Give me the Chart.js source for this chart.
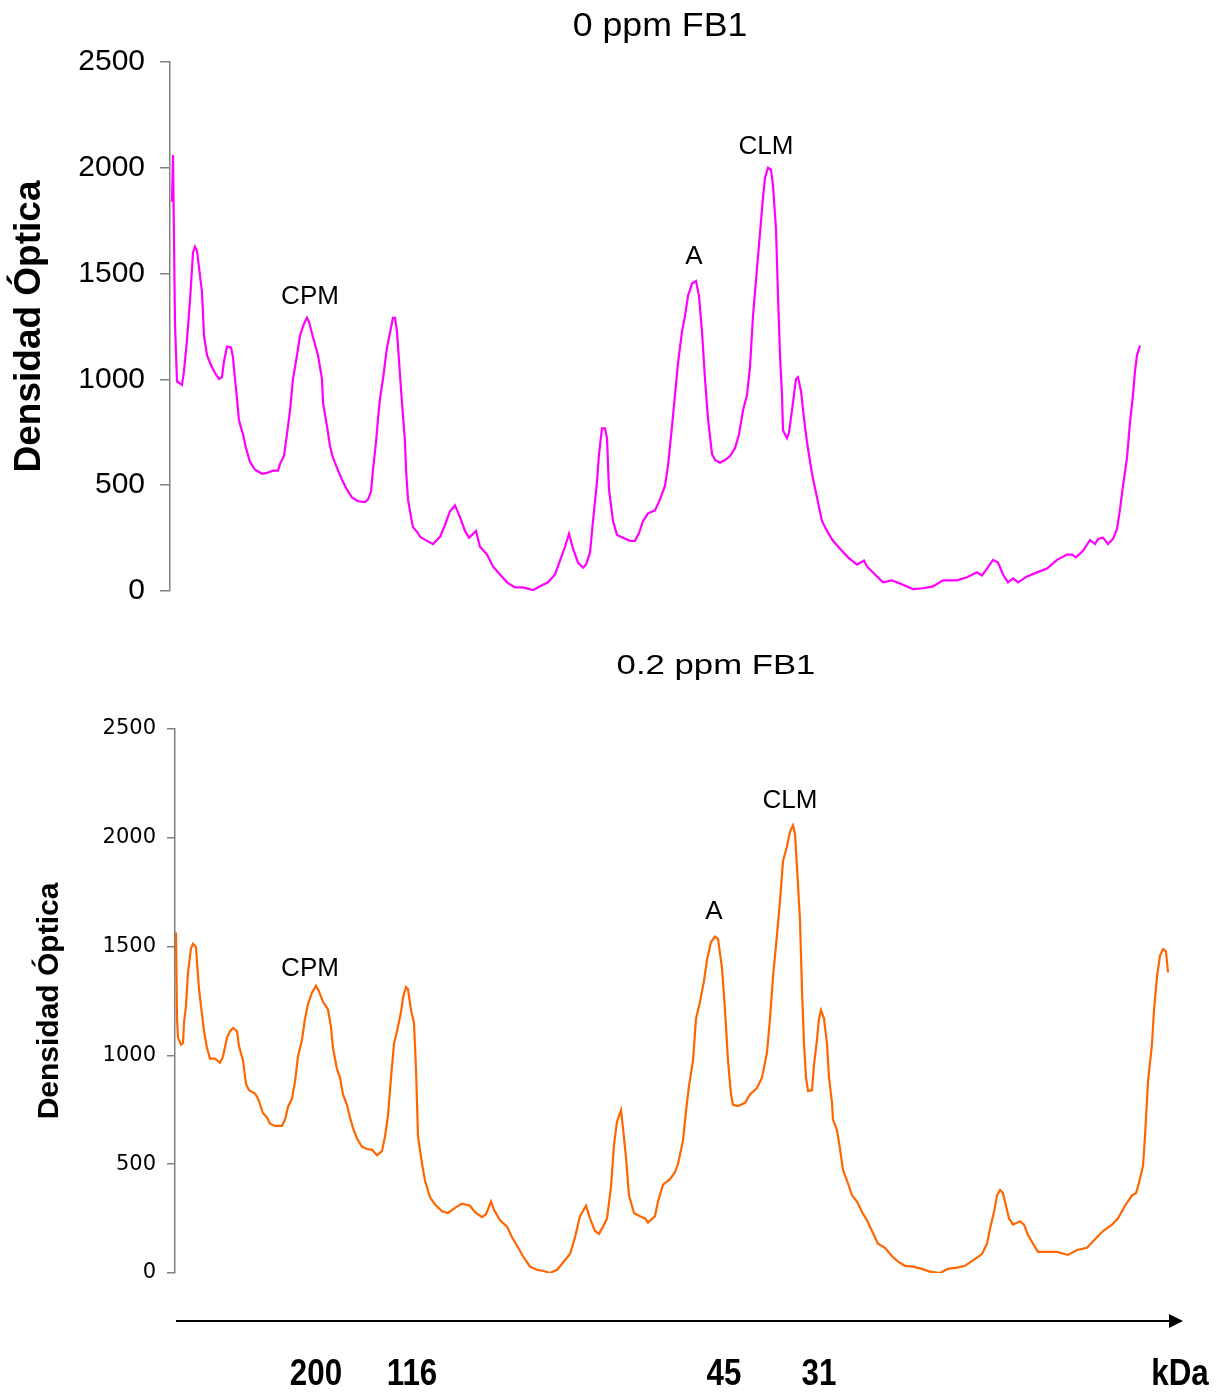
<!DOCTYPE html>
<html>
<head>
<meta charset="utf-8">
<script src="https://cdn.jsdelivr.net/npm/chart.js@4.4.1/dist/chart.umd.min.js"></script>
<style>
  html, body { margin: 0; padding: 0; background: #fff; overflow: hidden; }
  .box { position: absolute; left: 0; width: 1225px; }
  #top { top: 0; height: 640px; }
  #bot { top: 640px; height: 753px; }
</style>
</head>
<body>
<div class="box" id="top"><canvas id="c0"></canvas></div>
<div class="box" id="bot"><canvas id="c1"></canvas></div>
<script>
// densitometry traces, position along the lane (a.u.) vs optical density
const posTop = [0,1,3,5,10,12,15,18,21,23,25,30,32,35,39,43,47,50,52,55,59,61,63,65,67,71,74,78,83,90,95,101,106,108,112,115,118,121,125,128,132,135,137,141,146,150,151,155,158,161,165,170,175,180,186,193,196,199,201,204,206,208,211,215,219,221,223,225,228,230,233,234,236,239,241,246,248,255,261,268,273,278,283,288,293,297,300,304,308,315,321,328,335,343,351,361,368,376,383,388,393,397,401,406,411,414,418,421,425,427,430,433,435,437,441,445,451,458,463,467,471,476,483,488,493,496,500,503,506,510,513,516,520,524,527,530,533,536,540,543,548,553,558,563,567,571,575,578,581,585,588,591,593,596,599,601,604,606,608,610,611,615,617,621,624,626,629,632,635,640,645,650,655,661,668,676,685,692,695,703,711,720,728,741,751,761,771,785,795,805,810,815,821,826,831,836,841,846,855,865,875,885,895,900,904,911,918,923,926,931,936,941,945,948,951,955,958,961,963,965,968];
const odTop = [1840,2060,1260,990,974,1039,1188,1375,1599,1627,1608,1412,1207,1114,1067,1030,1002,1011,1086,1155,1151,1104,1002,909,806,741,675,610,573,554,558,569,569,601,638,741,853,1002,1114,1207,1263,1291,1272,1198,1114,1002,890,778,685,629,582,526,479,442,424,420,433,470,573,703,815,909,1002,1151,1244,1291,1291,1226,1021,890,703,573,433,349,302,274,256,237,222,256,312,377,405,349,284,252,265,284,209,172,116,78,41,17,17,4,22,41,78,144,209,271,200,134,110,125,181,330,517,647,769,769,722,479,330,265,252,237,237,274,330,367,381,433,498,591,778,927,1077,1226,1300,1394,1453,1465,1394,1226,1002,815,647,619,606,619,638,675,741,853,927,1058,1300,1524,1692,1860,1953,2000,1991,1916,1711,1394,1114,927,759,722,750,890,1002,1011,946,815,703,554,442,330,284,237,200,159,125,144,116,78,41,50,35,9,13,22,50,50,65,88,73,106,147,134,78,41,60,41,69,88,106,147,172,172,159,190,241,222,246,252,222,246,293,386,498,629,797,927,1039,1114,1160];

const posBottom = [0,1,2,5,7,8,10,12,15,17,20,21,23,26,28,31,34,39,44,47,51,54,57,61,63,67,70,73,79,82,87,91,94,99,106,109,112,116,119,122,126,129,132,136,140,143,147,152,155,157,161,164,167,171,174,177,181,186,191,196,201,206,209,212,215,218,221,225,227,230,232,235,238,240,242,246,249,254,259,266,272,279,286,294,299,306,310,315,318,324,331,336,341,347,354,361,367,374,381,387,394,399,404,410,414,419,423,427,431,435,438,441,445,447,450,453,458,464,469,472,479,482,487,494,499,502,507,510,513,517,520,524,528,531,535,539,542,546,549,552,555,557,562,569,574,581,586,591,594,597,601,604,607,611,614,617,619,621,624,626,628,630,632,636,638,641,643,645,648,651,653,656,657,661,664,667,671,676,681,686,691,696,702,709,716,722,729,737,746,754,764,772,781,789,797,806,811,814,818,821,824,827,830,833,837,844,848,852,857,862,871,881,892,901,911,919,927,936,942,949,956,960,963,967,969,972,976,978,981,984,987,990,992];
const odBottom = [1565,1169,1082,1049,1057,1150,1227,1381,1492,1513,1497,1430,1304,1188,1111,1034,985,985,966,995,1082,1111,1126,1111,1043,976,869,840,825,802,734,715,686,676,676,705,763,802,879,995,1072,1169,1236,1289,1320,1294,1246,1211,1130,1034,937,898,821,773,715,667,618,580,570,566,541,560,628,724,898,1053,1111,1198,1265,1314,1304,1208,1150,937,628,502,425,348,315,284,276,299,319,309,280,257,270,328,290,242,213,164,126,77,29,15,10,0,15,48,87,164,261,309,251,193,180,213,251,396,589,696,748,667,531,357,276,261,251,232,261,328,406,431,464,502,609,744,860,976,1169,1246,1343,1439,1521,1546,1536,1401,1208,976,821,773,767,782,821,850,898,1014,1169,1362,1555,1710,1893,1961,2029,2058,2019,1864,1620,1300,1053,898,837,840,956,1072,1169,1208,1169,1053,898,782,705,657,570,473,425,357,328,280,242,193,135,116,77,52,33,29,19,6,0,19,25,33,58,87,135,203,280,357,381,367,309,251,222,238,222,174,135,97,97,97,83,106,116,155,193,222,251,309,357,367,415,493,628,879,1053,1208,1362,1459,1488,1478,1381];

const yTicks = [0, 500, 1000, 1500, 2000, 2500];

// band labels, placed in data space
const peakNames = ['CPM', 'A', 'CLM'];
const peakPosTop = [138, 522, 594];
const peakOdTop = [1389, 1578, 2098];
const peakPosBottom = [134, 538, 614];
const peakOdBottom = [1397, 1659, 2169];

// molecular weight markers under the lower lane
const kdaLabels = ['200', '116', '45', '31'];
const kdaPos = [140, 236, 548, 643];
const kdaUnitPos = 1004;

function say(ctx, text, x, y, font, sx) {
  ctx.save();
  ctx.translate(x, y);
  ctx.scale(sx || 1, 1);
  ctx.font = font;
  ctx.fillStyle = '#000';
  ctx.textAlign = 'center';
  ctx.textBaseline = 'middle';
  ctx.fillText(text, 0, 0);
  ctx.restore();
}

const notes = {
  id: 'notes',
  afterDraw(chart, args, o) {
    const ctx = chart.ctx;
    const xs = chart.scales.x, ys = chart.scales.y;
    say(ctx, o.title, o.titleX, o.titleY, o.titleFont, o.titleScale);
    o.peakPos.forEach((p, i) => {
      say(ctx, peakNames[i], xs.getPixelForValue(p), ys.getPixelForValue(o.peakOd[i]), '26px "Liberation Sans", Arial, sans-serif');
    });
    if (o.kda) {
      const area = chart.chartArea;
      const y = area.bottom + 48;
      const x0 = area.left + 1, tip = area.right - 17;
      ctx.save();
      ctx.strokeStyle = '#000';
      ctx.fillStyle = '#000';
      ctx.lineWidth = 2;
      ctx.beginPath();
      ctx.moveTo(x0, y);
      ctx.lineTo(tip - 10, y);
      ctx.stroke();
      ctx.beginPath();
      ctx.moveTo(tip, y);
      ctx.lineTo(tip - 14, y - 7);
      ctx.lineTo(tip - 14, y + 7);
      ctx.closePath();
      ctx.fill();
      ctx.restore();
      const f = 'bold 36px "Liberation Sans", Arial, sans-serif';
      kdaLabels.forEach((t, i) => say(ctx, t, xs.getPixelForValue(kdaPos[i]), area.bottom + 102, f, 0.87));
      say(ctx, 'kDa', xs.getPixelForValue(kdaUnitPos), area.bottom + 102, f, 0.87);
    }
  }
};

function makeChart(id, pos, od, color, cfg) {
  return new Chart(id, {
    type: 'line',
    data: {
      datasets: [{
        data: pos.map((x, i) => ({ x: x, y: od[i] })),
        borderColor: color,
        borderWidth: 2.2,
        pointRadius: 0,
        tension: 0,
        fill: false
      }]
    },
    options: {
      responsive: true,
      maintainAspectRatio: false,
      animation: false,
      layout: { padding: cfg.padding },
      plugins: {
        legend: { display: false },
        tooltip: { enabled: false },
        notes: cfg.notes
      },
      scales: {
        x: { type: 'linear', display: false, min: cfg.xMin, max: cfg.xMax },
        y: {
          min: 0, max: 2500,
          afterBuildTicks: s => { s.ticks = yTicks.map(v => ({ value: v })); },
          afterFit: s => { s.width = cfg.axisWidth; },
          grid: { drawOnChartArea: false, drawTicks: true, tickLength: cfg.tickLength, color: '#808080', lineWidth: 1.5 },
          border: { display: true, color: '#808080', width: 1.5 },
          ticks: { color: '#000', font: cfg.tickFont, padding: cfg.tickPad, callback: v => String(v) },
          title: {
            display: true,
            text: 'Densidad Óptica',
            color: '#000',
            font: cfg.yTitleFont,
            padding: { top: cfg.yTitlePad, bottom: 0 }
          }
        }
      }
    },
    plugins: [notes]
  });
}

makeChart('c0', posTop, odTop, '#FF00FF', {
  padding: { top: 62, bottom: 49, left: 0, right: 75 },
  xMin: -2, xMax: 978,
  axisWidth: 170, tickLength: 10, tickPad: 15,
  tickFont: { family: '"Liberation Sans", Arial, sans-serif', size: 30 },
  yTitleFont: { family: '"Liberation Sans", Arial, sans-serif', size: 37, weight: 'bold' },
  yTitlePad: 8,
  notes: {
    title: '0 ppm FB1', titleX: 660, titleY: 27,
    titleFont: '34px "Liberation Sans", Arial, sans-serif', titleScale: 1.05,
    peakPos: peakPosTop, peakOd: peakOdTop, kda: false
  }
});

makeChart('c1', posBottom, odBottom, '#FF6600', {
  padding: { top: 89, bottom: 120, left: 0, right: 25 },
  xMin: -1, xMax: 1024,
  axisWidth: 175, tickLength: 8, tickPad: 11,
  tickFont: { family: '"DejaVu Sans", Verdana, sans-serif', size: 21 },
  yTitleFont: { family: '"Liberation Sans", Arial, sans-serif', size: 30, weight: 'bold' },
  yTitlePad: 32,
  notes: {
    title: '0.2 ppm FB1', titleX: 716, titleY: 26,
    titleFont: '28px "Liberation Sans", Arial, sans-serif', titleScale: 1.24,
    peakPos: peakPosBottom, peakOd: peakOdBottom, kda: true
  }
});
</script>
</body>
</html>
